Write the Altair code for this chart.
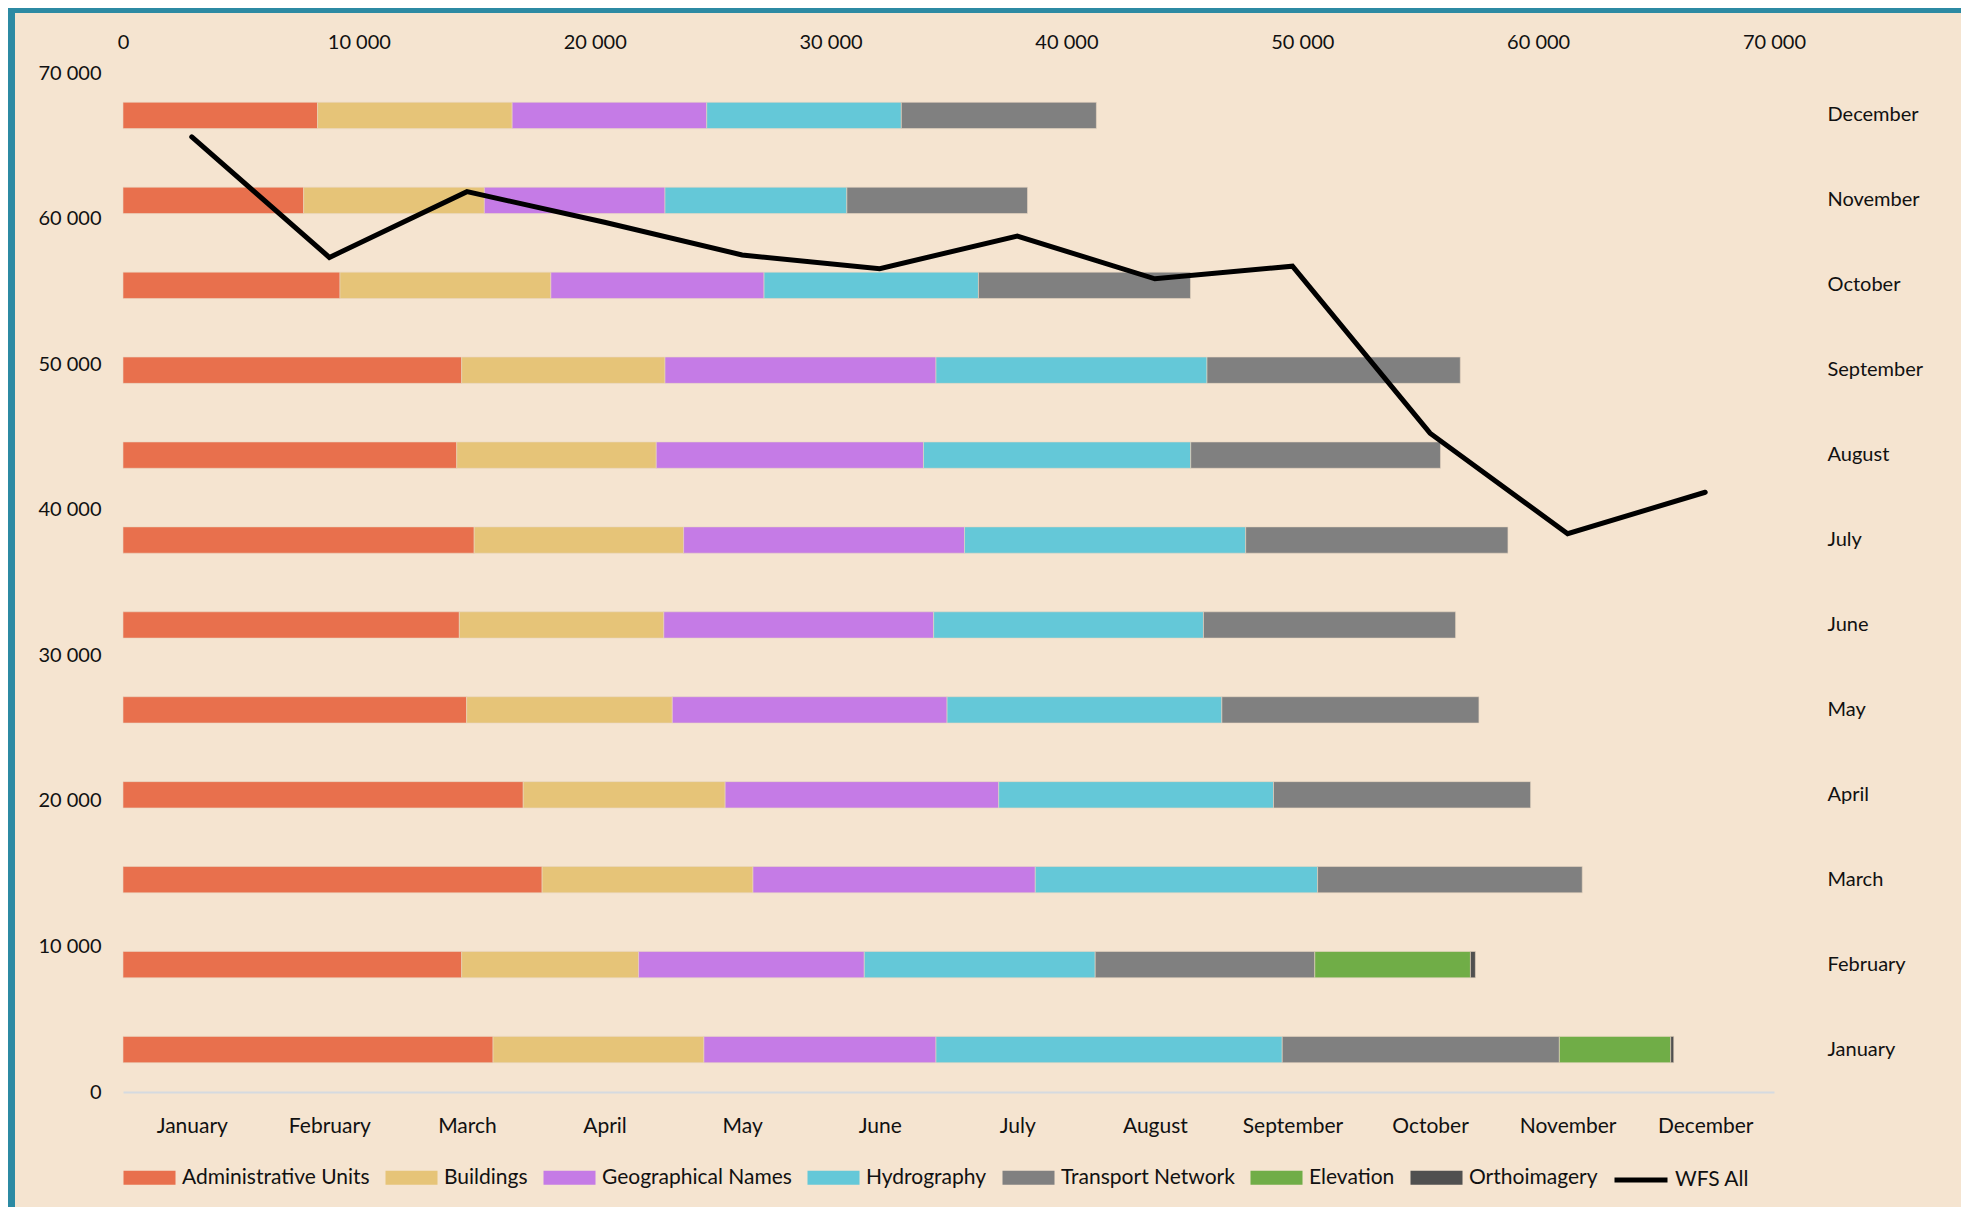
import altair as alt
import pandas as pd

months = ["January", "February", "March", "April", "May", "June",
          "July", "August", "September", "October", "November", "December"]
themes = ["Administrative Units", "Buildings", "Geographical Names", "Hydrography",
          "Transport Network", "Elevation", "Orthoimagery"]
theme_colors = ["#E8704D", "#E6C478", "#C57BE6", "#64C8D8", "#808080", "#70AD47", "#505050"]

admin      = [15690, 14360, 17770, 16970, 14570, 14260, 14890, 14150, 14360, 9200, 7660, 8250]
buildings  = [8940, 7500, 8940, 8560, 8720, 8670, 8880, 8460, 8620, 8940, 7660, 8250]
geo_names  = [9840, 9570, 11970, 11600, 11650, 11440, 11910, 11330, 11490, 9040, 7660, 8250]
hydro      = [14680, 9790, 11970, 11650, 11650, 11440, 11920, 11330, 11490, 9090, 7710, 8250]
transport  = [11750, 9310, 11220, 10900, 10900, 10690, 11120, 10590, 10740, 8990, 7660, 8270]
elevation  = [4720, 6600, 0, 0, 0, 0, 0, 0, 0, 0, 0, 0]
ortho      = [130, 210, 0, 0, 0, 0, 0, 0, 0, 0, 0, 0]

wfs_all = [65610, 57330, 61850, 59750, 57500, 56560, 58800, 55860, 56730, 45260, 38350, 41200]

axis_ticks = [0, 10000, 20000, 30000, 40000, 50000, 60000, 70000]

series = [admin, buildings, geo_names, hydro, transport, elevation, ortho]
rows = []
for ti, (theme, vals) in enumerate(zip(themes, series)):
    for m, v in zip(months, vals):
        if v > 0:
            rows.append({"month": m, "theme": theme, "value": v, "idx": ti})
df_bars = pd.DataFrame(rows)
df_line = pd.DataFrame({"month": months, "wfs": wfs_all, "series": ["WFS All"] * 12})

W, H = 1651, 1019
PAD = {"left": 115, "top": 65, "right": 187, "bottom": 115}
BG = "#F5E4D0"
TEAL = "#2C8AA3"
FONT = "Lato"
fmt = "replace(format(datum.value, ','), ',', ' ')"

bars = alt.Chart(df_bars).mark_bar(stroke="#EAD7C3", strokeWidth=0.6).encode(
    x=alt.X("value:Q", stack="zero",
            scale=alt.Scale(domain=[0, 70000], nice=False),
            axis=alt.Axis(orient="top", values=axis_ticks, labelExpr=fmt, title=None,
                          grid=False, domain=False, domainOpacity=0, ticks=False, tickSize=0,
                          labelFlush=False, labelPadding=21, labelFontSize=20)),
    y=alt.Y("month:N", sort=months[::-1],
            scale=alt.Scale(paddingInner=0.69, paddingOuter=0.345),
            axis=alt.Axis(orient="right", title=None, domain=False, domainOpacity=0,
                          ticks=False, tickSize=0, grid=False, labelPadding=53,
                          labelAlign="left", labelFontSize=20)),
    color=alt.Color("theme:N",
                    scale=alt.Scale(domain=themes, range=theme_colors),
                    legend=alt.Legend(title=None, orient="none", direction="horizontal",
                                      columns=7, legendX=-3, legendY=1094,
                                      symbolType="M-1,-1H6.43V1H-1Z", symbolSize=196,
                                      symbolStrokeWidth=0, labelOffset=41, labelLimit=0,
                                      columnPadding=12, labelFontSize=21, padding=0)),
    order=alt.Order("idx:Q"),
)

line = alt.Chart(df_line).mark_line(strokeWidth=5, strokeCap="round").encode(
    x=alt.X("month:N", sort=months,
            scale=alt.Scale(type="point", padding=0.5),
            axis=alt.Axis(orient="bottom", title=None, labelAngle=0, domain=True,
                          domainColor="#D5DAE0", domainWidth=2, ticks=False, tickSize=0,
                          grid=False, labelPadding=23, labelFontSize=21)),
    y=alt.Y("wfs:Q",
            scale=alt.Scale(domain=[0, 70000], nice=False),
            axis=alt.Axis(orient="left", values=axis_ticks, labelExpr=fmt, title=None,
                          grid=False, domain=False, domainOpacity=0, ticks=False, tickSize=0,
                          labelFlush=False, labelPadding=22, labelFontSize=20)),
    color=alt.Color("series:N",
                    scale=alt.Scale(domain=["WFS All"], range=["#000000"]),
                    legend=alt.Legend(title=None, orient="none", legendX=1489, legendY=1078,
                                      symbolType="stroke", symbolSize=2809,
                                      symbolStrokeWidth=5, labelOffset=5, labelLimit=0,
                                      labelFontSize=21, padding=0)),
)

frame = pd.DataFrame({"k": [0]})
left_strip = alt.Chart(frame).mark_rect(color=TEAL).encode(
    x=alt.value(-PAD["left"]), x2=alt.value(-PAD["left"] + 7),
    y=alt.value(-PAD["top"]), y2=alt.value(H + PAD["bottom"]))
top_strip = alt.Chart(frame).mark_rect(color=TEAL).encode(
    x=alt.value(-PAD["left"]), x2=alt.value(W + PAD["right"]),
    y=alt.value(-PAD["top"]), y2=alt.value(-PAD["top"] + 5))

chart = alt.layer(left_strip, top_strip, bars, line).resolve_scale(
    x="independent", y="independent", color="independent"
).resolve_legend(color="independent").properties(
    width=W, height=H,
    autosize=alt.AutoSizeParams(type="none"),
    padding=PAD,
    background=BG,
    view=alt.ViewBackground(stroke="transparent", strokeWidth=0),
).configure_view(stroke=None, strokeWidth=0).configure(
    font=FONT
).configure_axis(
    labelFont=FONT, labelColor="#111111", grid=False, gridOpacity=0
).configure_axisTop(domain=False).configure_axisRight(domain=False).configure_legend(
    labelFont=FONT, labelColor="#111111"
)

chart.save("out.html", embed_options={"renderer": "svg", "actions": False})
